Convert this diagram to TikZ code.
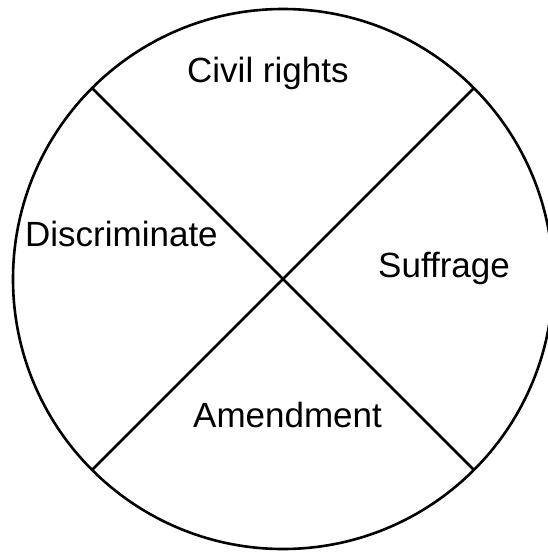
\documentclass[tikz,border=0pt]{standalone}
\usepackage{fontspec}
\setmainfont{Liberation Sans}
\tikzset{
  lbl/.style={anchor=base west, inner sep=0pt, font=\fontsize{35}{40}\selectfont},
  stroke/.style={line width=2.6pt, black}
}
\begin{document}
\begin{tikzpicture}[x=1pt,y=-1pt]
\useasboundingbox (0,0) rectangle (548,552);
\clip (0,0) rectangle (548,552);
\coordinate (c) at (283,279);
\draw[stroke] (c) circle[radius=270];
\coordinate (p1) at (92,88);
\coordinate (p2) at (474,470);
\coordinate (p3) at (474,88);
\coordinate (p4) at (92,470);
\draw[stroke] (p1) -- (p2);
\draw[stroke] (p3) -- (p4);
\node[lbl] (civil) at (187,82) {Civil rights};
\node[lbl] (disc) at (25,246) {Discriminate};
\node[lbl] (suff) at (378,277) {Suffrage};
\node[lbl] (amend) at (193,427) {Amendment};
\end{tikzpicture}
\end{document}
